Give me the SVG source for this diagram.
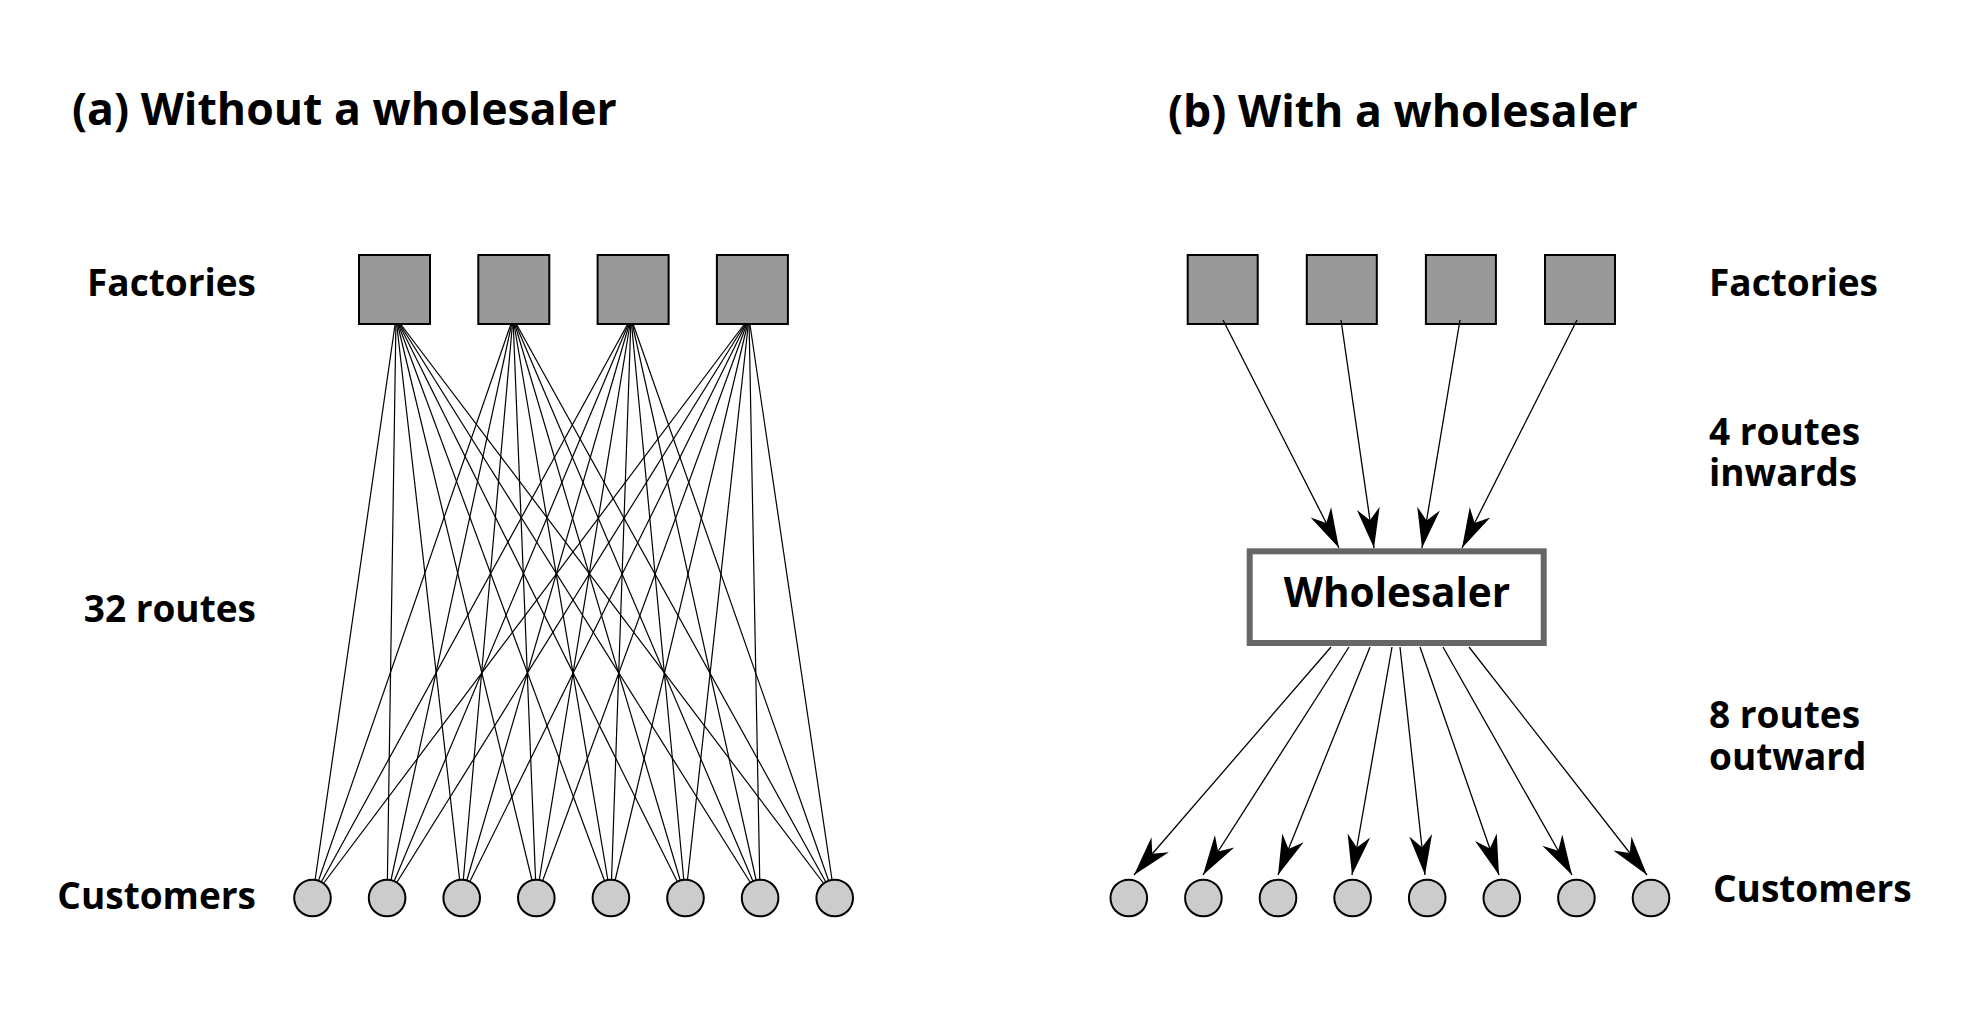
<svg xmlns="http://www.w3.org/2000/svg" width="1976" height="1020" viewBox="0 0 1976 1020">
<style>
.t{font-family:"Open Sans","DejaVu Sans",sans-serif;font-weight:700;fill:#000}
.h{font-size:44.6px}
.l{font-size:37px}
.fac{fill:#999999;stroke:#000;stroke-width:2}
.cus{fill:#cccccc;stroke:#000;stroke-width:2}
.rt{stroke:#000;stroke-width:1.2;fill:none}
.ar{stroke:#000;stroke-width:1.3;fill:none;marker-end:url(#ah)}
</style>
<defs>
<marker id="ah" markerUnits="userSpaceOnUse" markerWidth="42" markerHeight="26" viewBox="0 0 42 26" refX="40" refY="13" orient="auto" overflow="visible">
<path d="M40,13 L0,1.5 L12,13 L0,24.5 Z" fill="#000"/>
</marker>
</defs>
<rect width="1976" height="1020" fill="#fff"/>
<text class="t h" x="72" y="125">(a) Without a wholesaler</text>
<text class="t h" x="1168" y="127">(b) With a wholesaler</text>
<text class="t l" x="256" y="296" text-anchor="end">Factories</text>
<text class="t l" x="256" y="622" text-anchor="end">32 routes</text>
<text class="t l" x="256" y="909" text-anchor="end">Customers</text>
<text class="t l" x="1709" y="296">Factories</text>
<text class="t l" x="1709" y="445">4 routes</text>
<text class="t l" x="1709" y="486">inwards</text>
<text class="t l" x="1709" y="728">8 routes</text>
<text class="t l" x="1709" y="770">outward</text>
<text class="t l" x="1713" y="902">Customers</text>
<g id="connectors">
<g id="routes-a" class="rt">
<line x1="396" y1="318" x2="312.5" y2="898"/><line x1="396" y1="318" x2="387.1" y2="898"/><line x1="396" y1="318" x2="461.7" y2="898"/><line x1="396" y1="318" x2="536.3" y2="898"/><line x1="396" y1="318" x2="610.9" y2="898"/><line x1="396" y1="318" x2="685.5" y2="898"/><line x1="396" y1="318" x2="760.1" y2="898"/><line x1="396" y1="318" x2="834.7" y2="898"/>
<line x1="513" y1="318" x2="312.5" y2="898"/><line x1="513" y1="318" x2="387.1" y2="898"/><line x1="513" y1="318" x2="461.7" y2="898"/><line x1="513" y1="318" x2="536.3" y2="898"/><line x1="513" y1="318" x2="610.9" y2="898"/><line x1="513" y1="318" x2="685.5" y2="898"/><line x1="513" y1="318" x2="760.1" y2="898"/><line x1="513" y1="318" x2="834.7" y2="898"/>
<line x1="631" y1="318" x2="312.5" y2="898"/><line x1="631" y1="318" x2="387.1" y2="898"/><line x1="631" y1="318" x2="461.7" y2="898"/><line x1="631" y1="318" x2="536.3" y2="898"/><line x1="631" y1="318" x2="610.9" y2="898"/><line x1="631" y1="318" x2="685.5" y2="898"/><line x1="631" y1="318" x2="760.1" y2="898"/><line x1="631" y1="318" x2="834.7" y2="898"/>
<line x1="749" y1="318" x2="312.5" y2="898"/><line x1="749" y1="318" x2="387.1" y2="898"/><line x1="749" y1="318" x2="461.7" y2="898"/><line x1="749" y1="318" x2="536.3" y2="898"/><line x1="749" y1="318" x2="610.9" y2="898"/><line x1="749" y1="318" x2="685.5" y2="898"/><line x1="749" y1="318" x2="760.1" y2="898"/><line x1="749" y1="318" x2="834.7" y2="898"/>
</g>
</g>
<g id="factories-a">
<rect id="fa1" class="fac" x="359" y="255" width="71" height="69"/>
<rect id="fa2" class="fac" x="478.3" y="255" width="71" height="69"/>
<rect id="fa3" class="fac" x="597.6" y="255" width="71" height="69"/>
<rect id="fa4" class="fac" x="716.9" y="255" width="71" height="69"/>
</g>
<g id="customers-a">
<circle id="ca1" class="cus" cx="312.5" cy="898" r="18.3"/>
<circle id="ca2" class="cus" cx="387.1" cy="898" r="18.3"/>
<circle id="ca3" class="cus" cx="461.7" cy="898" r="18.3"/>
<circle id="ca4" class="cus" cx="536.3" cy="898" r="18.3"/>
<circle id="ca5" class="cus" cx="610.9" cy="898" r="18.3"/>
<circle id="ca6" class="cus" cx="685.5" cy="898" r="18.3"/>
<circle id="ca7" class="cus" cx="760.1" cy="898" r="18.3"/>
<circle id="ca8" class="cus" cx="834.7" cy="898" r="18.3"/>
</g>
<g id="factories-b">
<rect id="fb1" class="fac" x="1187.7" y="255" width="70" height="69"/>
<rect id="fb2" class="fac" x="1306.8" y="255" width="70" height="69"/>
<rect id="fb3" class="fac" x="1425.9" y="255" width="70" height="69"/>
<rect id="fb4" class="fac" x="1545" y="255" width="70" height="69"/>
</g>
<g id="wholesaler">
<rect x="1249.7" y="551.3" width="294" height="91.7" fill="#fff" stroke="#666" stroke-width="6"/>
<text class="t" x="1397" y="607" font-size="40.5" text-anchor="middle">Wholesaler</text>
</g>
<g id="customers-b">
<circle id="cb1" class="cus" cx="1128.8" cy="898" r="18.3"/>
<circle id="cb2" class="cus" cx="1203.4" cy="898" r="18.3"/>
<circle id="cb3" class="cus" cx="1278" cy="898" r="18.3"/>
<circle id="cb4" class="cus" cx="1352.6" cy="898" r="18.3"/>
<circle id="cb5" class="cus" cx="1427.2" cy="898" r="18.3"/>
<circle id="cb6" class="cus" cx="1501.8" cy="898" r="18.3"/>
<circle id="cb7" class="cus" cx="1576.4" cy="898" r="18.3"/>
<circle id="cb8" class="cus" cx="1651" cy="898" r="18.3"/>
</g>
<g id="connectors-b">
<line class="ar" x1="1223" y1="320" x2="1339" y2="548"/>
<line class="ar" x1="1341" y1="320" x2="1374" y2="548"/>
<line class="ar" x1="1460" y1="320" x2="1422" y2="548"/>
<line class="ar" x1="1577" y1="320" x2="1462" y2="548"/>
<line class="ar" x1="1331" y1="647" x2="1134" y2="875"/>
<line class="ar" x1="1349" y1="647" x2="1203" y2="875"/>
<line class="ar" x1="1370" y1="647" x2="1278" y2="875"/>
<line class="ar" x1="1392" y1="647" x2="1352" y2="875"/>
<line class="ar" x1="1400" y1="647" x2="1425" y2="875"/>
<line class="ar" x1="1420" y1="647" x2="1499" y2="875"/>
<line class="ar" x1="1443" y1="647" x2="1572" y2="875"/>
<line class="ar" x1="1469" y1="647" x2="1647" y2="875"/>
</g>
</svg>
